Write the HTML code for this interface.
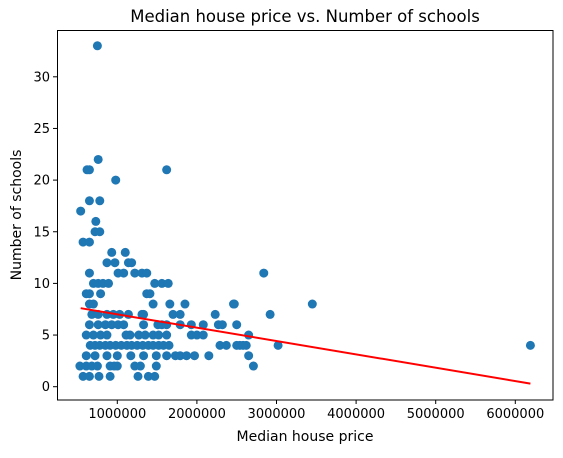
<!DOCTYPE html>
<html><head><meta charset="utf-8"><style>
body{margin:0;background:#fff;font-family:"Liberation Sans","DejaVu Sans",sans-serif}
svg text{font-family:"DejaVu Sans","Liberation Sans",sans-serif;fill:#000}
</style></head><body>
<svg id="chart" width="563" height="453" xmlns="http://www.w3.org/2000/svg"></svg>
<script>
const prices = [0.75,0.76,0.62,0.65,1.62,0.98,0.65,0.78,0.54,0.73,
0.57,0.65,0.72,0.78,0.93,1.10,0.87,0.97,1.14,1.18,
0.65,1.01,1.08,1.22,1.31,1.37,0.70,0.76,0.82,0.89,1.47,1.56,1.64,
0.61,0.65,0.79,1.37,1.41,0.65,0.70,1.45,1.66,1.85,2.46,2.47,3.45,
0.68,0.76,0.87,0.95,1.03,1.14,1.31,1.33,1.70,1.79,2.23,2.92,
0.65,0.76,0.85,0.93,1.01,1.08,1.33,1.51,1.56,1.62,1.79,1.93,2.08,2.27,2.32,2.5,
0.61,0.70,0.79,0.87,1.11,1.16,1.27,1.35,1.45,1.52,1.62,1.93,2.0,2.08,2.65,
0.66,0.72,0.78,0.85,0.91,0.98,1.05,1.12,1.18,1.25,1.32,1.39,1.45,1.52,1.58,1.65,2.29,2.37,2.54,2.62,2.50,2.58,3.02,6.19,
0.61,0.72,0.87,1.0,1.17,1.33,1.49,1.62,1.73,1.79,1.87,1.97,2.15,2.65,
0.53,0.61,0.68,0.75,0.91,0.96,1.0,1.22,1.29,1.49,2.71,
0.57,0.65,0.77,0.91,1.26,1.39,1.47,2.84];
const schools = [33,22,21,21,21,20,18,18,17,16,
14,14,15,15,13,13,12,12,12,12,
11,11,11,11,11,11,10,10,10,10,10,10,10,
9,9,9,9,9,8,8,8,8,8,8,8,8,
7,7,7,7,7,7,7,7,7,7,7,7,
6,6,6,6,6,6,6,6,6,6,6,6,6,6,6,6,
5,5,5,5,5,5,5,5,5,5,5,5,5,5,5,
4,4,4,4,4,4,4,4,4,4,4,4,4,4,4,4,4,4,4,4,4,4,4,4,
3,3,3,3,3,3,3,3,3,3,3,3,3,3,
2,2,2,2,2,2,2,2,2,2,2,
1,1,1,1,1,1,1,11];
const fitX = [540000, 6190000];
const fitY = [7.6, 0.3];
const xTicks = [1000000,2000000,3000000,4000000,5000000,6000000];
const yTicks = [0,5,10,15,20,25,30];

const NS="http://www.w3.org/2000/svg";
const svg=document.getElementById('chart');
const X=v=>37.7+v/1e6*79.6;
const Y=v=>386.7-v*10.33;
function mk(t,a,p){const e=document.createElementNS(NS,t);for(const k in a)e.setAttribute(k,a[k]);(p||svg).appendChild(e);return e;}

const pts=mk('g',{});


for(let i=0;i<prices.length;i++){
  const c=mk('circle',{cx:X(prices[i]*1e6),cy:Y(schools[i]),r:4.5,fill:'#1f77b4'},pts);
  
  
}
const ln=mk('line',{x1:X(fitX[0]),y1:Y(fitY[0]),x2:X(fitX[1]),y2:Y(fitY[1]),stroke:'#ff0000','stroke-width':2});



const fr=mk('rect',{x:57.5,y:30.5,width:495.5,height:369.5,fill:'none',stroke:'#000','stroke-width':1});



xTicks.forEach(t=>{
  const x=X(t);
  mk('line',{x1:x,y1:400,x2:x,y2:404,stroke:'#000'});
  const tx=mk('text',{x:x,y:418,'text-anchor':'middle','font-size':13});
  tx.textContent=t;
  
  
});
yTicks.forEach(t=>{
  const y=Y(t);
  mk('line',{x1:53,y1:y,x2:57.5,y2:y,stroke:'#000'});
  const tx=mk('text',{x:50,y:y+4.5,'text-anchor':'end','font-size':13});
  tx.textContent=t;
  
  
});
const ti=mk('text',{x:305,y:22,'text-anchor':'middle','font-size':16.5});
ti.textContent='Median house price vs. Number of schools';


const xt=mk('text',{x:305,y:441,'text-anchor':'middle','font-size':14});
xt.textContent='Median house price';


const yt=mk('text',{x:0,y:0,'text-anchor':'middle','font-size':14,transform:'translate(21,215) rotate(-90)'});
yt.textContent='Number of schools';


</script>
</body></html>
